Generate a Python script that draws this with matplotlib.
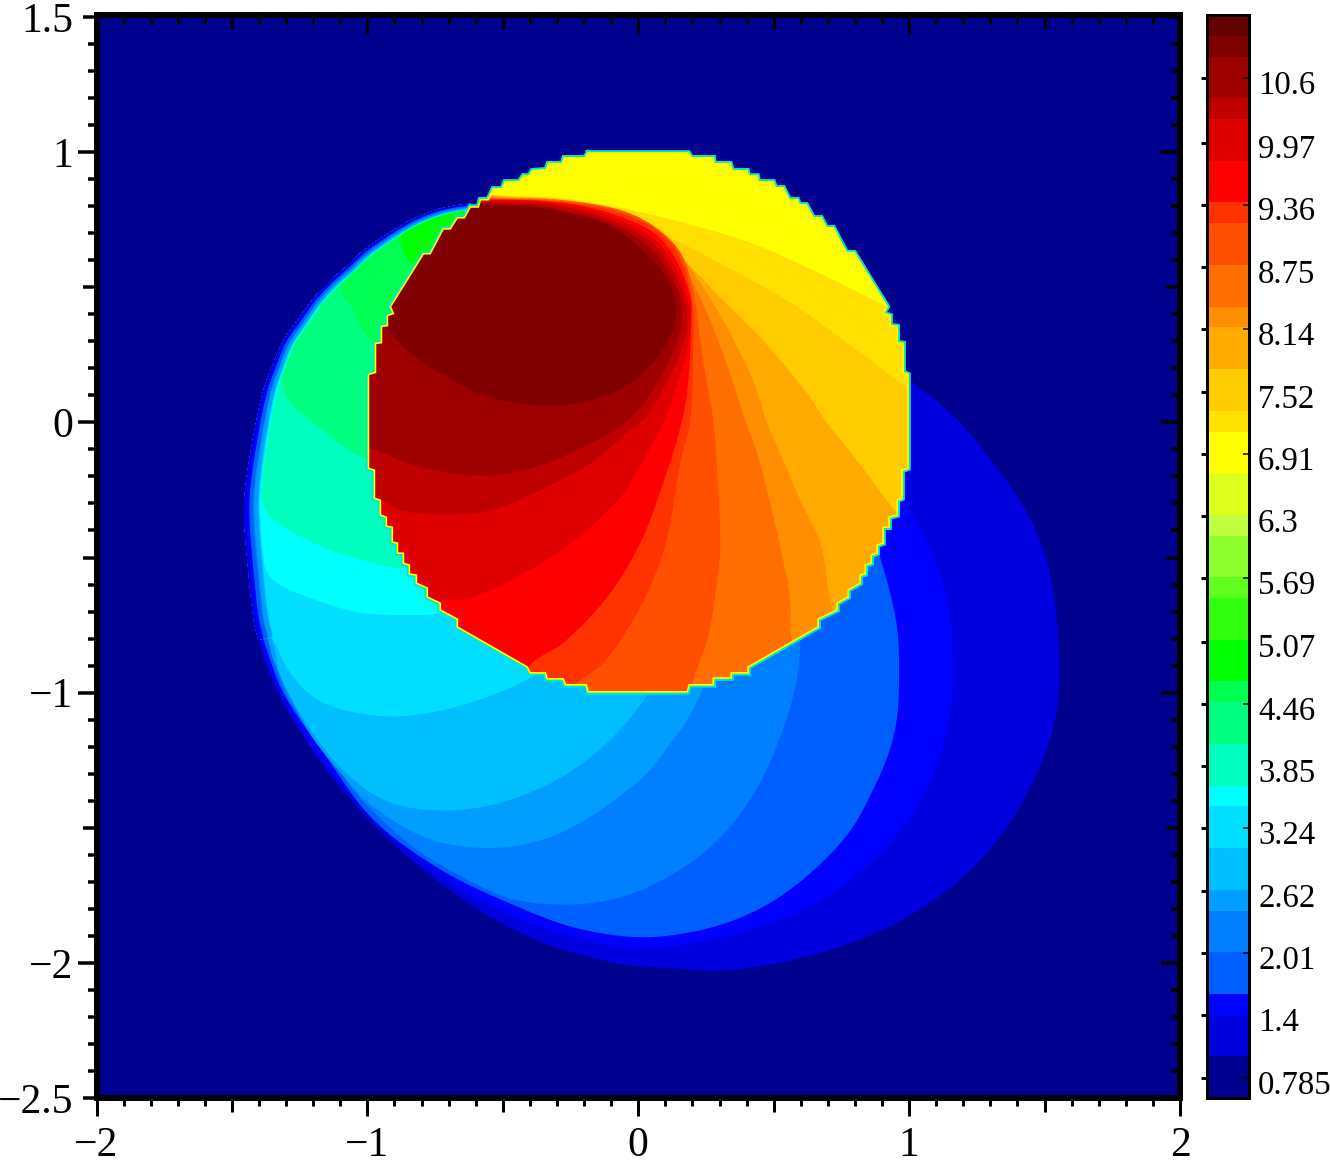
import numpy as np
import matplotlib
matplotlib.use("Agg")
import matplotlib.pyplot as plt
import matplotlib.lines as mlines
from matplotlib.collections import LineCollection
from matplotlib.colors import ListedColormap, BoundaryNorm
from matplotlib.patches import Polygon
from matplotlib.ticker import FixedLocator, FixedFormatter
from matplotlib.transforms import ScaledTranslation

plt.rcParams['font.family'] = ['Liberation Serif', 'DejaVu Serif']

# ---------- colour scale ----------
cbar_edges = [0.589, 0.998, 1.407, 1.612, 2.021, 2.430, 2.634, 3.043, 3.452, 3.657, 4.066,
              4.475, 4.679, 5.088, 5.497, 5.702, 6.111, 6.315, 6.724, 7.133, 7.338, 7.747,
              8.156, 8.360, 8.769, 9.178, 9.383, 9.792, 10.201, 10.405, 10.814, 11.019, 11.223]
cbar_colors = ['#00008f', '#0000df', '#0000ff', '#0060ff', '#0080ff', '#009fff', '#00bfff', '#00dfff',
               '#00ffff', '#00ffbf', '#00ff80', '#00ff50', '#00ff00', '#30ff10', '#5fff1f', '#8fff30',
               '#bfff3f', '#dfff1f', '#ffff00', '#ffe000', '#ffcc00', '#ffaa00', '#ff8f00', '#ff6f00',
               '#ff5000', '#ff3300', '#ff0000', '#df0000', '#bf0000', '#9e0000', '#800000', '#640000']
cbar_ticks = [0.785, 1.4, 2.01, 2.62, 3.24, 3.85, 4.46, 5.07, 5.69, 6.3, 6.91, 7.52, 8.14, 8.75, 9.36, 9.97, 10.6]
cbar_labels = ['0.785', '1.4', '2.01', '2.62', '3.24', '3.85', '4.46', '5.07', '5.69', '6.3', '6.91',
               '7.52', '8.14', '8.75', '9.36', '9.97', '10.6']

# ---------- axes ticks ----------
x_major = [-2, -1.5, -1, -0.5, 0, 0.5, 1, 1.5, 2]
x_labels = ['\u22122', '', '\u22121', '', '0', '', '1', '', '2']
y_major = [-2.5, -2, -1.5, -1, -0.5, 0, 0.5, 1, 1.5]
y_labels = ['\u22122.5', '\u22122', '', '\u22121', '', '0', '', '1', '1.5']

# ---------- jagged disk outline ----------
disk_x = [-0.185, 0.185, 0.196, 0.277, 0.280, 0.339, 0.347, 0.402, 0.406, 0.439, 0.443, 0.498, 0.506, 0.535,
          0.557, 0.587, 0.594, 0.620, 0.646, 0.675, 0.694, 0.720, 0.768, 0.797, 0.919, 0.904, 0.930, 0.930,
          0.956, 0.956, 0.978, 0.978, 0.996, 0.996, 0.974, 0.974, 0.956, 0.956, 0.926, 0.926, 0.904, 0.904,
          0.882, 0.882, 0.860, 0.860, 0.838, 0.838, 0.819, 0.819, 0.775, 0.775, 0.734, 0.734, 0.664, 0.664,
          0.406, 0.406, 0.343, 0.343, 0.277, 0.277, 0.188, 0.181, -0.185, -0.192, -0.269, -0.277, -0.336,
          -0.343, -0.399, -0.410, -0.668, -0.668, -0.731, -0.731, -0.779, -0.779, -0.819, -0.819, -0.845,
          -0.845, -0.867, -0.867, -0.889, -0.889, -0.908, -0.908, -0.930, -0.930, -0.952, -0.952, -0.974,
          -0.974, -0.996, -0.996, -0.970, -0.970, -0.948, -0.948, -0.926, -0.926, -0.904, -0.915, -0.793,
          -0.768, -0.720, -0.694, -0.668, -0.642, -0.620, -0.590, -0.583, -0.554, -0.535, -0.502, -0.491,
          -0.439, -0.424, -0.402, -0.391, -0.339, -0.332, -0.280, -0.273, -0.196]
disk_y = [0.997, 0.997, 0.979, 0.979, 0.957, 0.957, 0.931, 0.931, 0.912, 0.912, 0.890, 0.890, 0.868, 0.868,
          0.824, 0.824, 0.805, 0.805, 0.757, 0.757, 0.720, 0.720, 0.628, 0.628, 0.428, 0.403, 0.395, 0.358,
          0.355, 0.295, 0.292, 0.185, 0.177, -0.170, -0.177, -0.281, -0.288, -0.343, -0.351, -0.388, -0.388,
          -0.447, -0.454, -0.484, -0.491, -0.521, -0.528, -0.561, -0.565, -0.595, -0.620, -0.646, -0.669,
          -0.694, -0.728, -0.757, -0.905, -0.927, -0.927, -0.946, -0.946, -0.971, -0.971, -0.997, -0.997,
          -0.971, -0.971, -0.949, -0.949, -0.927, -0.927, -0.905, -0.757, -0.728, -0.694, -0.669, -0.646,
          -0.613, -0.595, -0.565, -0.561, -0.528, -0.521, -0.484, -0.484, -0.447, -0.443, -0.388, -0.384,
          -0.351, -0.343, -0.288, -0.281, -0.177, -0.170, 0.177, 0.185, 0.292, 0.295, 0.355, 0.358, 0.395,
          0.403, 0.428, 0.624, 0.624, 0.716, 0.716, 0.757, 0.757, 0.797, 0.797, 0.824, 0.824, 0.864, 0.864,
          0.890, 0.890, 0.912, 0.912, 0.931, 0.935, 0.957, 0.957, 0.979, 0.979]

# ---------- crescent outer edge, top to bottom ----------
crescent_x = [-0.620, -0.683, -0.756, -0.830, -0.889, -0.952, -1.015, -1.074, -1.137, -1.199, -1.258, -1.310,
              -1.347, -1.384, -1.421, -1.450, -1.454, -1.443, -1.421, -1.402]
crescent_y = [0.809, 0.801, 0.783, 0.753, 0.720, 0.680, 0.635, 0.580, 0.524, 0.458, 0.377, 0.303, 0.218,
              0.118, -0.055, -0.240, -0.362, -0.510, -0.720, -0.805]
crescent_rim_scale = [0.35, 0.35, 0.38, 0.40, 0.42, 0.45, 0.48, 0.50, 0.52, 0.55, 0.60, 0.65, 0.70, 0.78, 0.85,
                      0.95, 1.0, 1.0, 1.0, 1.0]

# ---------- level boundaries outside the disk, from the crescent edge to under the disk ----------
out_1_x = [-1.347, -1.221, -1.037, -0.852, -0.609, -0.362, -0.114, 0.007, 0.129, 0.314, 0.561, 0.808, 1.015,
           1.214, 1.362, 1.483, 1.546, 1.550, 1.509, 1.421, 1.299, 1.177, 0.996]
out_1_y = [-0.964, -1.186, -1.426, -1.607, -1.791, -1.921, -1.994, -2.013, -2.020, -2.028, -1.991, -1.917,
           -1.817, -1.669, -1.496, -1.274, -1.056, -0.794, -0.517, -0.310, -0.137, 0.011, 0.163]
out_2_x = [-1.395, -1.347, -1.221, -1.037, -0.852, -0.609, -0.362, -0.114, 0.007, 0.255, 0.476, 0.661, 0.845,
           0.993, 1.089, 1.151, 1.162, 1.140, 1.077, 0.967, 0.782]
out_2_y = [-0.805, -0.953, -1.175, -1.407, -1.581, -1.754, -1.865, -1.932, -1.946, -1.917, -1.858, -1.773,
           -1.640, -1.481, -1.304, -1.086, -0.868, -0.646, -0.473, -0.281, -0.177]
out_3_x = [-1.384, -1.310, -1.162, -0.978, -0.731, -0.483, -0.240, 0.007, 0.229, 0.413, 0.561, 0.697, 0.793,
           0.867, 0.926, 0.956, 0.963, 0.956, 0.930, 0.893, 0.856]
out_3_y = [-0.805, -1.001, -1.222, -1.470, -1.654, -1.776, -1.868, -1.905, -1.879, -1.817, -1.728, -1.610,
           -1.496, -1.359, -1.219, -1.086, -0.908, -0.764, -0.632, -0.502, -0.399]
out_4_x = [-1.369, -1.295, -1.137, -1.037, -0.852, -0.731, -0.483, -0.262, -0.055, 0.155, 0.303, 0.413, 0.498,
           0.572, 0.598, 0.579]
out_4_y = [-0.805, -1.016, -1.237, -1.378, -1.555, -1.636, -1.758, -1.784, -1.754, -1.655, -1.536, -1.396,
           -1.230, -1.012, -0.823, -0.731]
out_5_x = [-1.365, -1.347, -1.221, -1.100, -0.978, -0.793, -0.609, -0.424, -0.240, 0.007, 0.129, 0.185, 0.247, 0.229]
out_5_y = [-0.805, -0.879, -1.137, -1.296, -1.422, -1.533, -1.573, -1.562, -1.496, -1.322, -1.174, -1.093, -0.953, -0.879]
out_6_x = [-1.351, -1.310, -1.184, -1.063, -0.915, -0.705, -0.509, -0.299, -0.114, 0.033, 0.063]
out_6_y = [-0.805, -0.964, -1.175, -1.311, -1.407, -1.436, -1.407, -1.322, -1.185, -1.008, -0.915]
out_7_x = [-1.347, -1.284, -1.184, -1.037, -0.852, -0.609, -0.391, -0.325]
out_7_y = [-0.805, -0.927, -1.026, -1.075, -1.086, -1.034, -0.942, -0.879]
out_8_x = [-1.395, -1.347, -1.221, -1.037, -0.852, -0.731, -0.620]
out_8_y = [-0.499, -0.584, -0.646, -0.702, -0.713, -0.705, -0.657]
out_9_x = [-1.395, -1.347, -1.162, -0.978, -0.867, -0.768]
out_9_y = [-0.288, -0.362, -0.462, -0.521, -0.539, -0.510]
out_10_x = [-1.310, -1.314, -1.284, -1.210, -1.100, -1.000, -0.878]
out_10_y = [0.203, 0.144, 0.070, 0.007, -0.078, -0.133, -0.103]
out_11_x = [-1.074, -1.100, -1.052, -0.978, -0.878]
out_11_y = [0.535, 0.499, 0.414, 0.295, 0.303]
out_12_x = [-0.849, -0.878, -0.834, -0.731]
out_12_y = [0.727, 0.683, 0.587, 0.598]
outer_values = [1.2, 1.5, 1.8, 2.2, 2.5, 2.8, 3.2, 3.55, 3.85, 4.25, 4.55, 4.85]
outer_edge_counts = [20, 19, 19, 19, 19, 19, 19, 17, 15, 12, 9, 4]
outer_x = [out_1_x, out_2_x, out_3_x, out_4_x, out_5_x, out_6_x, out_7_x, out_8_x, out_9_x, out_10_x, out_11_x, out_12_x]
outer_y = [out_1_y, out_2_y, out_3_y, out_4_y, out_5_y, out_6_y, out_7_y, out_8_y, out_9_y, out_10_y, out_11_y, out_12_y]
under_disk = (-0.509, 0.451)

# rim along the crescent edge: value, inset in pixels at full scale, crescent points used
rim_values = [3.85, 3.55, 3.2, 2.8, 2.5, 2.2, 1.8, 1.5, 1.2]
rim_insets = [18, 17, 16, 15, 14, 10, 9, 5, 2]
rim_counts = [15, 17, 20, 20, 20, 20, 20, 20, 20]

# ---------- level boundaries inside the disk ----------
fan_1_x = [1.041, 0.919, 0.672, 0.424, 0.181, -0.066, -0.299, -0.483, -0.590]
fan_1_y = [0.377, 0.428, 0.550, 0.661, 0.735, 0.794, 0.831, 0.838, 0.849]
fan_2_x = [1.059, 0.993, 0.793, 0.550, 0.303, 0.118, -0.066, -0.240, -0.483, -0.590]
fan_2_y = [0.074, 0.126, 0.277, 0.451, 0.587, 0.683, 0.753, 0.809, 0.835, 0.846]
fan_3_x = [1.004, 0.937, 0.793, 0.690, 0.624, 0.461, 0.303, 0.181, 0.055, -0.048, -0.177, -0.325, -0.483, -0.590]
fan_3_y = [-0.399, -0.314, -0.122, 0.007, 0.107, 0.303, 0.462, 0.587, 0.683, 0.753, 0.801, 0.827, 0.835, 0.842]
fan_4_x = [0.764, 0.716, 0.672, 0.598, 0.524, 0.472, 0.424, 0.328, 0.240, 0.144, 0.044, -0.066, -0.177, -0.325, -0.483, -0.590]
fan_4_y = [-0.787, -0.687, -0.447, -0.288, -0.114, 0.007, 0.155, 0.351, 0.499, 0.635, 0.724, 0.772, 0.805, 0.827, 0.831, 0.838]
fan_5_x = [0.598, 0.565, 0.561, 0.535, 0.487, 0.439, 0.395, 0.339, 0.266, 0.203, 0.118, 0.026, -0.085, -0.177, -0.325, -0.483, -0.590]
fan_5_y = [-0.879, -0.794, -0.657, -0.510, -0.299, -0.114, 0.007, 0.181, 0.377, 0.513, 0.661, 0.739, 0.783, 0.809, 0.826, 0.829, 0.835]
fan_6_x = [0.185, 0.199, 0.255, 0.292, 0.303, 0.295, 0.277, 0.258, 0.229, 0.210, 0.162, 0.081, -0.037, -0.177, -0.343, -0.483, -0.590]
fan_6_y = [-1.064, -0.964, -0.805, -0.584, -0.462, -0.240, 0.007, 0.118, 0.303, 0.451, 0.617, 0.709, 0.776, 0.809, 0.823, 0.827, 0.831]
fan_7_x = [-0.269, -0.225, -0.129, -0.041, 0.044, 0.107, 0.155, 0.192, 0.203, 0.199, 0.148, 0.066, -0.055, -0.196, -0.362, -0.483, -0.590]
fan_7_y = [-1.026, -0.964, -0.890, -0.768, -0.609, -0.425, -0.151, 0.007, 0.277, 0.451, 0.624, 0.713, 0.772, 0.805, 0.822, 0.825, 0.827]
fan_8_x = [-0.435, -0.387, -0.277, -0.114, 0.007, 0.092, 0.162, 0.185, 0.196, 0.192, 0.129, 0.052, -0.074, -0.207, -0.362, -0.483, -0.590]
fan_8_y = [-0.953, -0.886, -0.816, -0.646, -0.447, -0.225, 0.007, 0.155, 0.377, 0.469, 0.620, 0.705, 0.764, 0.801, 0.820, 0.824, 0.824]
fan_9_x = [-0.786, -0.723, -0.620, -0.435, -0.251, -0.066, 0.033, 0.096, 0.148, 0.188, 0.188, 0.118, 0.037, -0.085, -0.214, -0.362, -0.483, -0.590]
fan_9_y = [-0.657, -0.657, -0.650, -0.565, -0.447, -0.277, -0.114, 0.007, 0.155, 0.303, 0.432, 0.609, 0.694, 0.757, 0.794, 0.816, 0.820, 0.820]
fan_10_x = [-1.007, -0.948, -0.878, -0.731, -0.546, -0.362, -0.177, -0.030, 0.018, 0.100, 0.170, 0.177, 0.111, 0.030, -0.096, -0.225, -0.362, -0.483, -0.590]
fan_10_y = [-0.277, -0.288, -0.325, -0.340, -0.325, -0.251, -0.151, -0.030, 0.007, 0.137, 0.303, 0.432, 0.591, 0.680, 0.746, 0.787, 0.809, 0.812, 0.816]
fan_11_x = [-1.044, -0.989, -0.852, -0.705, -0.546, -0.362, -0.177, -0.037, 0.063, 0.144, 0.162, 0.100, 0.026, -0.103, -0.232, -0.362, -0.483, -0.590]
fan_11_y = [-0.085, -0.096, -0.151, -0.185, -0.196, -0.159, -0.078, 0.007, 0.137, 0.303, 0.432, 0.576, 0.661, 0.735, 0.775, 0.801, 0.809, 0.812]
fan_12_x = [-0.970, -0.923, -0.852, -0.705, -0.546, -0.362, -0.214, -0.055, 0.070, 0.129, 0.137, 0.092, 0.007, -0.114, -0.240, -0.362, -0.483, -0.590]
fan_12_y = [0.384, 0.340, 0.266, 0.166, 0.092, 0.063, 0.074, 0.129, 0.240, 0.351, 0.451, 0.550, 0.646, 0.732, 0.770, 0.794, 0.801, 0.805]
fan_values = [7.25, 7.55, 7.95, 8.25, 8.55, 8.95, 9.3, 9.6, 10.0, 10.3, 10.6, 10.9]
fan_x = [fan_1_x, fan_2_x, fan_3_x, fan_4_x, fan_5_x, fan_6_x, fan_7_x, fan_8_x, fan_9_x, fan_10_x, fan_11_x, fan_12_x]
fan_y = [fan_1_y, fan_2_y, fan_3_y, fan_4_y, fan_5_y, fan_6_y, fan_7_y, fan_8_y, fan_9_y, fan_10_y, fan_11_y, fan_12_y]
fan_reaches_right = [True, True, True, True, True, True, True, False, False, False, False, False]
far_top_left = (-1.25, 0.84)
far_bottom_left = (-1.25, -1.40)
far_bottom_right = (1.34, -1.40)
disk_value = 6.9
background_value = 0.8


def smooth(xs, ys, n=14):
    """Draw a boundary as a smooth curve through the read points (cubic Bezier pieces)."""
    p = np.column_stack([xs, ys]).astype(float)
    if len(p) < 3:
        return p[:, 0], p[:, 1]
    tang = np.zeros_like(p)
    tang[1:-1] = p[2:] - p[:-2]
    tang[0] = p[1] - p[0]
    tang[-1] = p[-1] - p[-2]
    tang /= np.maximum(np.linalg.norm(tang, axis=1, keepdims=True), 1e-9)
    seg = np.linalg.norm(p[1:] - p[:-1], axis=1, keepdims=True)
    c1 = p[:-1] + tang[:-1] * seg / 3
    c2 = p[1:] - tang[1:] * seg / 3
    t = np.linspace(0, 1, n, endpoint=False)[None, :, None]
    a, b, c, d = p[:-1, None], c1[:, None], c2[:, None], p[1:, None]
    pts = ((1 - t) ** 3 * a + 3 * (1 - t) ** 2 * t * b + 3 * (1 - t) * t ** 2 * c + t ** 3 * d).reshape(-1, 2)
    pts = np.vstack([pts, p[-1]])
    return pts[:, 0], pts[:, 1]


# ---------- figure ----------
W, H = 1330, 1163
DPI = 100
PX = 72 / DPI
fig = plt.figure(figsize=(W / DPI, H / DPI), dpi=DPI)
ax = fig.add_axes([96.5 / W, 1 - 1098 / H, (1180 - 96.5) / W, (1098 - 17) / H])
cax = fig.add_axes([1207 / W, 1 - 1098 / H, (1249 - 1207) / W, (1098 - 15) / H])

cmap = ListedColormap(cbar_colors)
norm = BoundaryNorm(cbar_edges, cmap.N)
col = lambda v: cmap(norm(v))

ax.set_xlim(-2, 2)
ax.set_ylim(-2.5, 1.5)
ax.set_facecolor(col(background_value))
ax.set_axisbelow(False)

order = [1.0]
def z():
    order[0] += 0.001
    return order[0]

blob = None
for i, (value, n, bx, by) in enumerate(zip(outer_values, outer_edge_counts, outer_x, outer_y)):
    if i == 0:
        sx, sy = smooth(crescent_x + bx, crescent_y + by)
    else:
        ex, ey = smooth(crescent_x[:n], crescent_y[:n])
        fx, fy = smooth(bx, by)
        sx, sy = np.r_[ex, fx], np.r_[ey, fy]
    poly = np.column_stack([np.r_[sx, under_disk[0]], np.r_[sy, under_disk[1]]])
    patch = Polygon(poly, closed=True, facecolor=col(value), edgecolor='none', lw=0, zorder=z())
    ax.add_patch(patch)
    if blob is None:
        blob = patch

for value, inset, n in zip(rim_values, rim_insets, rim_counts):
    sx, sy = smooth(crescent_x[:n], crescent_y[:n])
    scale = np.interp(np.linspace(0, n - 1, len(sx)), np.arange(n), crescent_rim_scale[:n])
    pts = np.column_stack([sx, sy])
    segs = [pts[j:j + 3] for j in range(len(pts) - 2)]
    lc = LineCollection(segs, colors=[col(value)], linewidths=2 * inset * scale[:len(segs)] * PX,
                        capstyle='butt', joinstyle='round', zorder=z())
    ax.add_collection(lc)
    lc.set_clip_path(blob)

# disk rim
disk_closed_x = disk_x + disk_x[:1]
disk_closed_y = disk_y + disk_y[:1]
ax.plot(disk_closed_x, disk_closed_y, color='#00dfff', lw=5.5 * PX, solid_joinstyle='miter', zorder=z())
ax.plot(disk_closed_x, disk_closed_y, color='#00ff50', lw=3.2 * PX, solid_joinstyle='miter', zorder=z())

disk = Polygon(np.column_stack([disk_x, disk_y]), closed=True, facecolor=col(disk_value), edgecolor='none', lw=0, zorder=z())
ax.add_patch(disk)
for value, bx, by, right in zip(fan_values, fan_x, fan_y, fan_reaches_right):
    closing = [far_top_left, far_bottom_left] + ([far_bottom_right] if right else [])
    sx, sy = smooth(bx, by)
    px = np.r_[sx, [c[0] for c in closing]]
    py = np.r_[sy, [c[1] for c in closing]]
    patch = Polygon(np.column_stack([px, py]), closed=True, facecolor=col(value), edgecolor='none', lw=0, zorder=z())
    ax.add_patch(patch)
    patch.set_clip_path(disk)
ax.plot(disk_closed_x, disk_closed_y, color='#ffff00', lw=1.6 * PX, solid_joinstyle='miter', zorder=z())

# ---------- main axes frame and ticks ----------
for s in ax.spines.values():
    s.set_linewidth(6 * PX)
    s.set_zorder(5)
    s.set_capstyle('projecting')
ax.spines['top'].set_position(('outward', 2 * PX))

ax.xaxis.set_major_locator(FixedLocator(x_major))
ax.xaxis.set_major_formatter(FixedFormatter(x_labels))
ax.yaxis.set_major_locator(FixedLocator(y_major))
ax.yaxis.set_major_formatter(FixedFormatter(y_labels))
ax.xaxis.set_minor_locator(FixedLocator(np.arange(-20, 21) / 10))
ax.yaxis.set_minor_locator(FixedLocator(np.arange(-25, 16) / 10))
ax.tick_params(axis='both', which='both', direction='in', top=True, right=True, bottom=True, left=True)
ax.tick_params(axis='x', which='major', labelsize=30, pad=28 * PX)
ax.tick_params(axis='y', which='major', labelsize=30, pad=23 * PX)
fig.canvas.draw()

def style(tick, marker1, marker2, length1, length2, width):
    tick.tick1line.set_marker(marker1)
    tick.tick2line.set_marker(marker2)
    tick.tick1line.set_markersize(length1 * PX)
    tick.tick2line.set_markersize(length2 * PX)
    tick.tick1line.set_markeredgewidth(width * PX)
    tick.tick2line.set_markeredgewidth(width * PX)

for tick, v in zip(ax.xaxis.get_major_ticks(), x_major):
    whole = float(v).is_integer()
    style(tick, mlines.TICKDOWN, mlines.TICKDOWN, 18 if whole else 14, 19 if whole else 14, 3)
for tick in ax.xaxis.get_minor_ticks():
    style(tick, mlines.TICKDOWN, mlines.TICKDOWN, 8, 9, 3)
for tick, v in zip(ax.yaxis.get_major_ticks(), y_major):
    whole = float(v).is_integer()
    style(tick, mlines.TICKLEFT, mlines.TICKLEFT, 19 if whole else 14, 19 if whole else 14, 3.5)
for tick in ax.yaxis.get_minor_ticks():
    style(tick, mlines.TICKLEFT, mlines.TICKLEFT, 9, 9, 3.5)

# ---------- colour bar ----------
mids = (np.array(cbar_edges[:-1]) + np.array(cbar_edges[1:])) / 2
cax.pcolormesh([0, 1], cbar_edges, mids[:, None], cmap=cmap, norm=norm, shading='flat')
cax.set_xlim(0, 1)
cax.set_ylim(cbar_edges[0], cbar_edges[-1])
cax.set_xticks([])
cax.yaxis.set_major_locator(FixedLocator(cbar_ticks))
cax.yaxis.set_major_formatter(FixedFormatter(cbar_labels))
cax.tick_params(axis='y', direction='in', left=True, right=True, labelleft=False, labelright=True,
                labelsize=23.6, pad=9 * PX)
for s in cax.spines.values():
    s.set_linewidth(3 * PX)
fig.canvas.draw()
shift = ScaledTranslation(0, -4 / DPI, fig.dpi_scale_trans)
for i, tick in enumerate(cax.yaxis.get_major_ticks()):
    tick.tick1line.set_marker(mlines.TICKLEFT)
    tick.tick1line.set_markersize(6 * PX)
    tick.tick1line.set_markeredgewidth(3 * PX)
    tick.tick2line.set_marker(mlines.TICKLEFT)
    tick.tick2line.set_markersize(6 * PX)
    tick.tick2line.set_markeredgewidth(1.5 * PX)
    tick.tick2line.set_visible(i % 2 == 0)
    tick.label2.set_transform(tick.label2.get_transform() + shift)

fig.savefig('out.png', dpi=DPI)
